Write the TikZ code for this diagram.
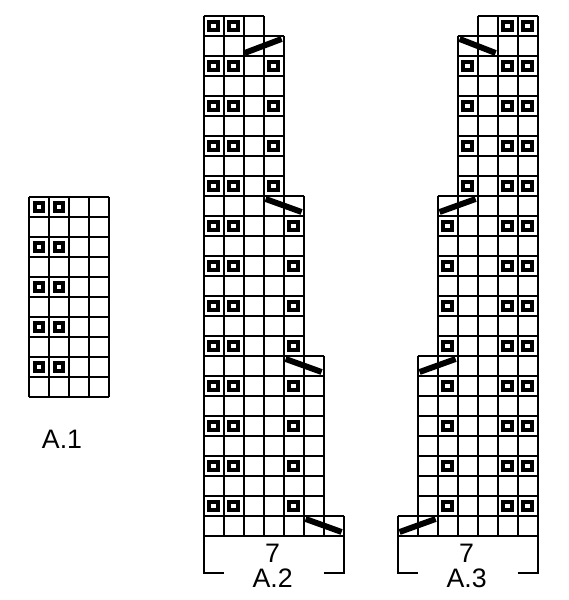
\documentclass[tikz,border=0pt]{standalone}
\usepackage{fontspec}
\setmainfont{Liberation Sans}
\tikzset{
    chart/.style={line width=1.5pt, step=0.5cm},
    purl/.style={line width=2.9pt},
    cable/.style={line width=4.2pt},
    bracket/.style={line width=1.5pt},
    chartlabel/.style={font=\fontsize{19}{19}\selectfont, inner sep=0pt},
}
\newcommand{\purlsq}[2]{\draw[purl] (#1-0.72,#2-0.72) rectangle ++(0.44,0.44);}
\begin{document}
\begin{tikzpicture}[x=0.5cm,y=0.5cm]
    \useasboundingbox (0,0) rectangle (28.45,30);
    \begin{scope}[shift={(1.45,10.15)}]
    \draw[chart] (0,0) grid (4,10);
    \foreach \r in {2,4,...,10} \foreach \c in {1,2} {\purlsq{\c}{\r}}
    \end{scope}
    \node[chartlabel] (a1name) at (3.1,8.05) {A.1};
    \begin{scope}[shift={(10.18,3.2)}]
    \draw[chart] (0,0) grid (7,1);
    \draw[chart] (0,1) grid (6,9);
    \draw[chart] (0,9) grid (5,17);
    \draw[chart] (0,17) grid (4,25);
    \draw[chart] (0,25) grid (3,26);
    \foreach \r in {2,4,...,16} \foreach \c in {1,2,5} {\purlsq{\c}{\r}}
    \foreach \r in {18,20,22,24} \foreach \c in {1,2,4} {\purlsq{\c}{\r}}
    \purlsq{1}{26} \purlsq{2}{26}
    \draw[cable] (5.1,0.85) -- (6.9,0.2);
    \draw[cable] (4.1,8.85) -- (5.9,8.2);
    \draw[cable] (3.1,16.85) -- (4.9,16.2);
    \draw[cable] (2.05,24.15) -- (3.9,24.85);
    \draw[bracket] (1,-1.85) -- (0,-1.85) -- (0,0);
    \draw[bracket] (6,-1.85) -- (7,-1.85) -- (7,0);
    \node[chartlabel] (a2num) at (3.45,-0.85) {7};
    \node[chartlabel] (a2name) at (3.45,-2.1) {A.2};
    \end{scope}
    \begin{scope}[shift={(19.88,3.2)}]
    \draw[chart] (0,0) grid (7,1);
    \draw[chart] (1,1) grid (7,9);
    \draw[chart] (2,9) grid (7,17);
    \draw[chart] (3,17) grid (7,25);
    \draw[chart] (4,25) grid (7,26);
    \foreach \r in {2,4,...,16} \foreach \c in {3,6,7} {\purlsq{\c}{\r}}
    \foreach \r in {18,20,22,24} \foreach \c in {4,6,7} {\purlsq{\c}{\r}}
    \purlsq{6}{26} \purlsq{7}{26}
    \draw[cable] (0.1,0.2) -- (1.9,0.85);
    \draw[cable] (1.1,8.2) -- (2.9,8.85);
    \draw[cable] (2.1,16.2) -- (3.9,16.85);
    \draw[cable] (3.1,24.85) -- (4.9,24.15);
    \draw[bracket] (1,-1.85) -- (0,-1.85) -- (0,0);
    \draw[bracket] (6,-1.85) -- (7,-1.85) -- (7,0);
    \node[chartlabel] (a3num) at (3.45,-0.85) {7};
    \node[chartlabel] (a3name) at (3.45,-2.1) {A.3};
    \end{scope}
\end{tikzpicture}
\end{document}
